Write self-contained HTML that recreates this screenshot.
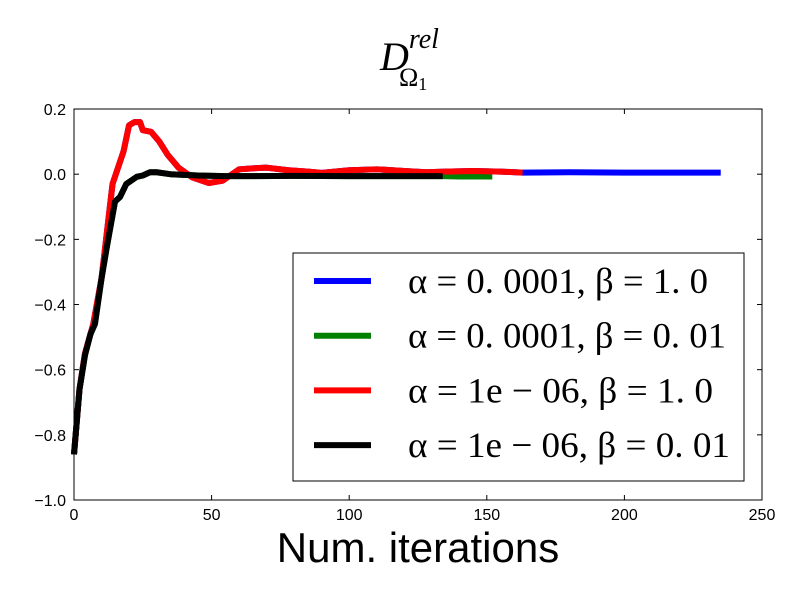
<!DOCTYPE html>
<html><head><meta charset="utf-8"><style>
body{margin:0;background:#fff}
svg text{font-family:"Liberation Sans",sans-serif}
.m{font-family:"Liberation Serif","DejaVu Serif",serif}
</style></head><body>
<svg id="chart" width="800" height="600" xmlns="http://www.w3.org/2000/svg">
<rect width="800" height="600" fill="#fff"/>
<text class="m" x="380" y="70" font-size="40" font-style="italic">D<tspan font-size="28" dy="-22">rel</tspan><tspan font-size="26" font-style="normal" dx="-40" dy="38">Ω<tspan font-size="18" dy="4">1</tspan></tspan></text>
<g id="series"></g>
<rect x="74" y="109" width="688" height="391" fill="none" stroke="#000" stroke-width="1"/>
<g id="axes"></g>
<text x="418" y="562" font-size="42" text-anchor="middle">Num. iterations</text>
<g>
<rect x="293" y="253" width="451" height="228" fill="#fff" stroke="#000" stroke-width="1"/>
<g id="legend-items"></g>
</g>
</svg>
<script>
const xTicks=[0,50,100,150,200,250];
const yTicks=[-1.0,-0.8,-0.6,-0.4,-0.2,0.0,0.2];
const labels=["α = 0. 0001, β = 1. 0","α = 0. 0001, β = 0. 01","α = 1e − 06, β = 1. 0","α = 1e − 06, β = 0. 01"];
const labelWidths=[300,318,305,322];
const colors=["#0000ff","#008000","#ff0000","#000000"];
const redX=[0,2,4,7,10,14,18,20,22,24,25,28,31,34,38,43,49,54,60,65,70,78,85,90,100,110,120,128,135,145,155,163];
const redY=[-0.86,-0.66,-0.55,-0.46,-0.32,-0.03,0.07,0.15,0.16,0.16,0.135,0.13,0.1,0.06,0.02,-0.01,-0.027,-0.02,0.015,0.018,0.02,0.012,0.008,0.004,0.012,0.015,0.01,0.006,0.008,0.01,0.008,0.005];
const blueX=[163,180,200,220,235];
const blueY=[0.005,0.006,0.005,0.005,0.005];
const blackX=[0,2,4,6,7.6,10,12,14.9,16.7,19,22.8,25,27.6,30,35,45,55,65,80,100,120,134];
const blackY=[-0.86,-0.66,-0.555,-0.49,-0.46,-0.32,-0.22,-0.084,-0.07,-0.03,-0.008,-0.004,0.006,0.006,0.0,-0.004,-0.006,-0.006,-0.005,-0.006,-0.006,-0.006];
const greenX=[134,140,152];
const greenY=[-0.006,-0.007,-0.007];
const sx=v=>74+v*688/250, sy=v=>174.2-v*325.8;
const NS="http://www.w3.org/2000/svg";
function line(xs,ys,color,name){const p=document.createElementNS(NS,"polyline");
p.setAttribute("points",xs.map((x,i)=>sx(x)+","+sy(ys[i])).join(" "));
p.setAttribute("fill","none");p.setAttribute("stroke",color);p.setAttribute("stroke-width","6");p.setAttribute("stroke-linejoin","round");


document.getElementById("series").appendChild(p);}
line(redX.concat(blueX),redY.concat(blueY),colors[0],"series-blue");
line(blackX.concat(greenX),blackY.concat(greenY),colors[1],"series-green");
line(redX,redY,colors[2],"series-red");
line(blackX,blackY,colors[3],"series-black");
const ax=document.getElementById("axes");
xTicks.forEach(t=>{const x=sx(t);
ax.insertAdjacentHTML("beforeend",`<line x1="${x}" y1="500" x2="${x}" y2="495" stroke="#000"/><line x1="${x}" y1="109" x2="${x}" y2="114" stroke="#000"/>`);
const tx=document.createElementNS(NS,"text");tx.setAttribute("x",x);tx.setAttribute("y",520);tx.setAttribute("font-size","16");tx.setAttribute("text-anchor","middle");tx.textContent=t;


ax.appendChild(tx);});
yTicks.forEach(t=>{const y=sy(t);
ax.insertAdjacentHTML("beforeend",`<line x1="74" y1="${y}" x2="79" y2="${y}" stroke="#000"/><line x1="762" y1="${y}" x2="757" y2="${y}" stroke="#000"/>`);
const tx=document.createElementNS(NS,"text");tx.setAttribute("x",66);tx.setAttribute("y",y+6);tx.setAttribute("font-size","16");tx.setAttribute("text-anchor","end");tx.textContent=(t<0?"−":"")+Math.abs(t).toFixed(1);


ax.appendChild(tx);});
const lg=document.getElementById("legend-items");
labels.forEach((l,i)=>{const y=281+i*54.7;
const ln=document.createElementNS(NS,"line");ln.setAttribute("x1",314);ln.setAttribute("x2",371);ln.setAttribute("y1",y);ln.setAttribute("y2",y);ln.setAttribute("stroke",colors[i]);ln.setAttribute("stroke-width","6");


lg.appendChild(ln);
const tx=document.createElementNS(NS,"text");tx.setAttribute("x",408);tx.setAttribute("y",y+12);tx.setAttribute("font-size","36");tx.setAttribute("class","m");
tx.setAttribute("textLength",labelWidths[i]);tx.setAttribute("lengthAdjust","spacingAndGlyphs");tx.textContent=l;


lg.appendChild(tx);});
</script>
</body></html>
